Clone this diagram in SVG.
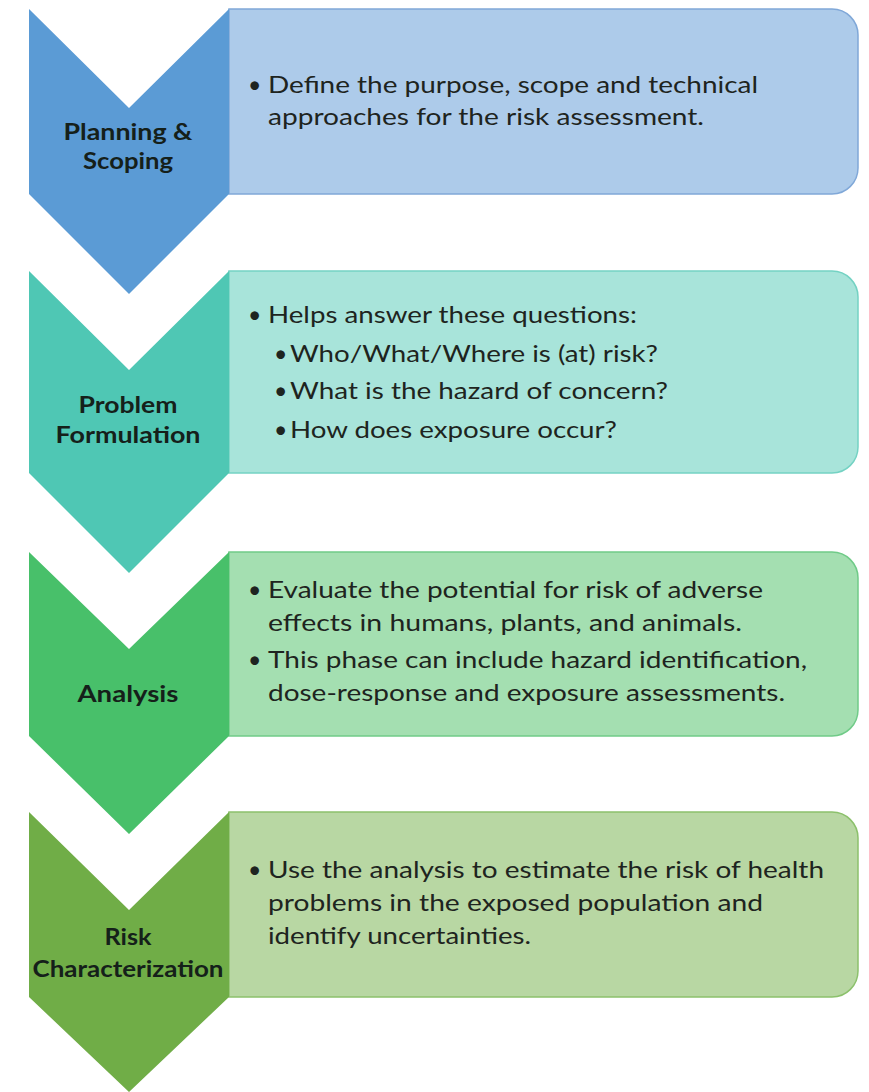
<svg xmlns="http://www.w3.org/2000/svg" width="869" height="1092" viewBox="0 0 869 1092">
  <style>
    .label { font-family: Lato, "Open Sans", "Liberation Sans", sans-serif; font-weight: 700; font-size: 22px; fill: #15201a; text-anchor: middle; }
    .body  { font-family: Lato, "Open Sans", "Liberation Sans", sans-serif; font-size: 23px; fill: #1e2420; }
    .box   { stroke-width: 1.5; }
  </style>
  <rect width="869" height="1092" fill="#ffffff"/>

  <!-- Stage 1 -->
  <g id="planning-scoping">
    <path class="box" d="M229,9 H832 A26,26 0 0 1 858,35 V168 A26,26 0 0 1 832,194 H229 Z" fill="#adcbea" stroke="#80a8d8"/>
    <path d="M29,9 L129,108 L229,9 V194 L129,294 L29,194 Z" fill="#5b9bd5"/>
    <text class="label" x="128" y="140" textLength="129" lengthAdjust="spacingAndGlyphs">Planning &amp;</text>
    <text class="label" x="128" y="169" textLength="90" lengthAdjust="spacingAndGlyphs">Scoping</text>
    <text class="body" x="248" y="93">•</text>
    <text class="body" x="268" y="93" textLength="490" lengthAdjust="spacingAndGlyphs">Define the purpose, scope and technical</text>
    <text class="body" x="268" y="125" textLength="436" lengthAdjust="spacingAndGlyphs">approaches for the risk assessment.</text>
  </g>

  <!-- Stage 2 -->
  <g id="problem-formulation">
    <path class="box" d="M229,271 H832 A26,26 0 0 1 858,297 V447 A26,26 0 0 1 832,473 H229 Z" fill="#a8e4da" stroke="#74d2c3"/>
    <path d="M29,271 L129,370 L229,271 V473 L129,573 L29,473 Z" fill="#4fc7b4"/>
    <text class="label" x="128" y="413" textLength="99" lengthAdjust="spacingAndGlyphs">Problem</text>
    <text class="label" x="128" y="443" textLength="145" lengthAdjust="spacingAndGlyphs">Formulation</text>
    <text class="body" x="248" y="323">•</text>
    <text class="body" x="268" y="323" textLength="369" lengthAdjust="spacingAndGlyphs">Helps answer these questions:</text>
    <text class="body" x="274" y="362">•</text>
    <text class="body" x="290" y="362" textLength="368" lengthAdjust="spacingAndGlyphs">Who/What/Where is (at) risk?</text>
    <text class="body" x="274" y="399">•</text>
    <text class="body" x="290" y="399" textLength="378" lengthAdjust="spacingAndGlyphs">What is the hazard of concern?</text>
    <text class="body" x="274" y="438">•</text>
    <text class="body" x="290" y="438" textLength="327" lengthAdjust="spacingAndGlyphs">How does exposure occur?</text>
  </g>

  <!-- Stage 3 -->
  <g id="analysis">
    <path class="box" d="M229,552 H832 A26,26 0 0 1 858,578 V710 A26,26 0 0 1 832,736 H229 Z" fill="#a4dfb1" stroke="#70cb88"/>
    <path d="M29,552 L129,649 L229,552 V736 L129,834 L29,736 Z" fill="#48c06a"/>
    <text class="label" x="128" y="702" textLength="101" lengthAdjust="spacingAndGlyphs">Analysis</text>
    <text class="body" x="248" y="598">•</text>
    <text class="body" x="268" y="598" textLength="495" lengthAdjust="spacingAndGlyphs">Evaluate the potential for risk of adverse</text>
    <text class="body" x="268" y="631" textLength="474" lengthAdjust="spacingAndGlyphs">effects in humans, plants, and animals.</text>
    <text class="body" x="248" y="668">•</text>
    <text class="body" x="268" y="668" textLength="539" lengthAdjust="spacingAndGlyphs">This phase can include hazard identification,</text>
    <text class="body" x="268" y="701" textLength="517" lengthAdjust="spacingAndGlyphs">dose-response and exposure assessments.</text>
  </g>

  <!-- Stage 4 -->
  <g id="risk-characterization">
    <path class="box" d="M229,812 H832 A26,26 0 0 1 858,838 V971 A26,26 0 0 1 832,997 H229 Z" fill="#b8d7a3" stroke="#8cc16c"/>
    <path d="M29,812 L129,910 L229,812 V997 L129,1092 L29,997 Z" fill="#70ad47"/>
    <text class="label" x="128" y="945" textLength="47" lengthAdjust="spacingAndGlyphs">Risk</text>
    <text class="label" x="128" y="977" textLength="191" lengthAdjust="spacingAndGlyphs">Characterization</text>
    <text class="body" x="248" y="878">•</text>
    <text class="body" x="268" y="878" textLength="556" lengthAdjust="spacingAndGlyphs">Use the analysis to estimate the risk of health</text>
    <text class="body" x="268" y="911" textLength="495" lengthAdjust="spacingAndGlyphs">problems in the exposed population and</text>
    <text class="body" x="268" y="944" textLength="263" lengthAdjust="spacingAndGlyphs">identify uncertainties.</text>
  </g>
</svg>
